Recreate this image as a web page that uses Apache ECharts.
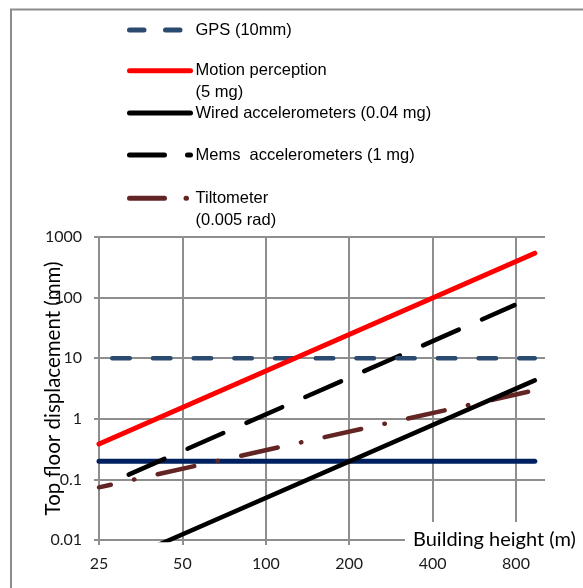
<!DOCTYPE html>
<html><head><meta charset="utf-8">
<script src="https://cdn.jsdelivr.net/npm/echarts@6/dist/echarts.min.js"></script>
<style>html,body{margin:0;padding:0;background:#fff}#c{width:583px;height:588px}</style>
</head><body><div id="c"></div>
<script>
// Axis ticks
const xTicks = [25, 50, 100, 200, 400, 800];
const yTicks = [0.01, 0.1, 1, 10, 100, 1000];

// Series names
const names = ['GPS (10mm)', 'Motion perception\n(5 mg)', 'Wired accelerometers (0.04 mg)', 'Mems  accelerometers (1 mg)', 'Tiltometer\n(0.005 rad)', 'Limit 0.2 mm'];

// Building heights (m) and top-floor displacements (mm) for each line
const gpsH = [25, 935],    gpsV = [10, 10];
const motionH = [25, 935], motionV = [0.385, 540];
const wiredH = [25, 935],  wiredV = [0.0031, 4.3];
const memsH = [32, 790],   memsV = [0.12, 75];
const tiltH = [25, 935],   tiltV = [0.074, 2.95];
const limitH = [25, 935],  limitV = [0.2, 0.2];

const pair = (h, v) => h.map((x, i) => [x, v[i]]);

const gridColor = '#8e8e8e';
const tickFont = 'Lato';

function mkSeries(name, h, v, color, width, type, offset) {
  return {
    name, type: 'line', data: pair(h, v), symbol: 'none', showSymbol: false,
    clip: true, silent: true,
    lineStyle: { color, width, type, dashOffset: offset || 0, cap: 'round' }
  };
}

const series = [
  mkSeries(names[5], limitH, limitV, '#002060', 5, 'solid'),
  mkSeries(names[4], tiltH, tiltV, '#632523', 4.5, [37.5, 23.75, 0.5, 23.75], 25.4),
  mkSeries(names[2], wiredH, wiredV, '#000000', 4.5, 'solid'),
  mkSeries(names[3], memsH, memsV, '#000000', 4.5, [39, 25.3], 0),
  mkSeries(names[0], gpsH, gpsV, '#2a4a6f', 4.5, [17.5, 23.2], 27.45),
  mkSeries(names[1], motionH, motionV, '#ff0000', 5, 'solid')
];

const legendTops = [19, 37.7, 102, 144, 165.3];
const legendDash = [[14.5, 21.5], 'solid', 'solid', [35, 23], [35, 21.5, 0.5, 21.5]];
const legendColors = ['#2a4a6f', '#ff0000', '#000000', '#000000', '#632523'];
const legends = [0, 1, 2, 3, 4].map(i => ({
  data: [names[i]], left: 127, top: legendTops[i], orient: 'vertical', padding: 0,
  itemWidth: 61, itemHeight: 14, selectedMode: false,
  itemStyle: { opacity: 0 },
  lineStyle: { color: legendColors[i], width: 5, type: legendDash[i], dashOffset: 0, cap: 'round' },
  formatter: n => (n.indexOf('\n') >= 0 ? '\n' + n : n),
  textStyle: { fontFamily: 'Liberation Sans', fontSize: 16.5, color: '#000', lineHeight: 22 }
}));

const chart = echarts.init(document.getElementById('c'), null, { renderer: 'canvas' });
chart.setOption({
  animation: false,
  backgroundColor: '#fff',
  grid: { left: 99, right: 38, top: 237, bottom: 48, containLabel: false, outerBoundsMode: 'none' },
  legend: legends,
  xAxis: {
    type: 'log', logBase: 2, min: 25, max: 1018,
    axisLine: { show: true, lineStyle: { color: gridColor, width: 2 } },
    axisTick: { show: true, length: 5, customValues: xTicks, lineStyle: { color: gridColor, width: 2 } },
    axisLabel: { customValues: xTicks, margin: 16, fontFamily: tickFont, fontSize: 16, color: '#1a1a1a',
      formatter: v => String(Math.round(v)) },
    splitLine: { show: true, lineStyle: { color: gridColor, width: 2 } },
    minorTick: { show: false }, minorSplitLine: { show: false }
  },
  yAxis: {
    type: 'log', logBase: 10, min: yTicks[0], max: yTicks[yTicks.length - 1],
    name: 'Top floor displacement (mm)', nameLocation: 'middle', nameGap: 35, nameRotate: 90,
    nameMoveOverlap: false,
    nameTextStyle: { fontFamily: tickFont, fontSize: 20.5, color: '#000' },
    axisLine: { show: true, lineStyle: { color: gridColor, width: 2 } },
    axisTick: { show: true, length: 5, lineStyle: { color: gridColor, width: 2 } },
    axisLabel: { margin: 17, fontFamily: tickFont, fontSize: 16, color: '#1a1a1a',
      formatter: v => String(+(+v).toPrecision(3)) },
    splitLine: { show: true, lineStyle: { color: gridColor, width: 2 } }
  },
  graphic: [
    { type: 'rect', z: -10, silent: true, shape: { x: 11, y: 9.5, width: 700, height: 700 },
      style: { fill: 'none', stroke: '#8c8c8c', lineWidth: 2 } },
    { type: 'text', z: 100, silent: true, x: 405, y: 540,
      style: { text: 'Building height (m)', font: '20px Lato', fill: '#000', backgroundColor: '#fff',
        padding: [8, 10, 8, 8], verticalAlign: 'middle', textVerticalAlign: 'middle', align: 'left' } }
  ],
  series
});
</script></body></html>
